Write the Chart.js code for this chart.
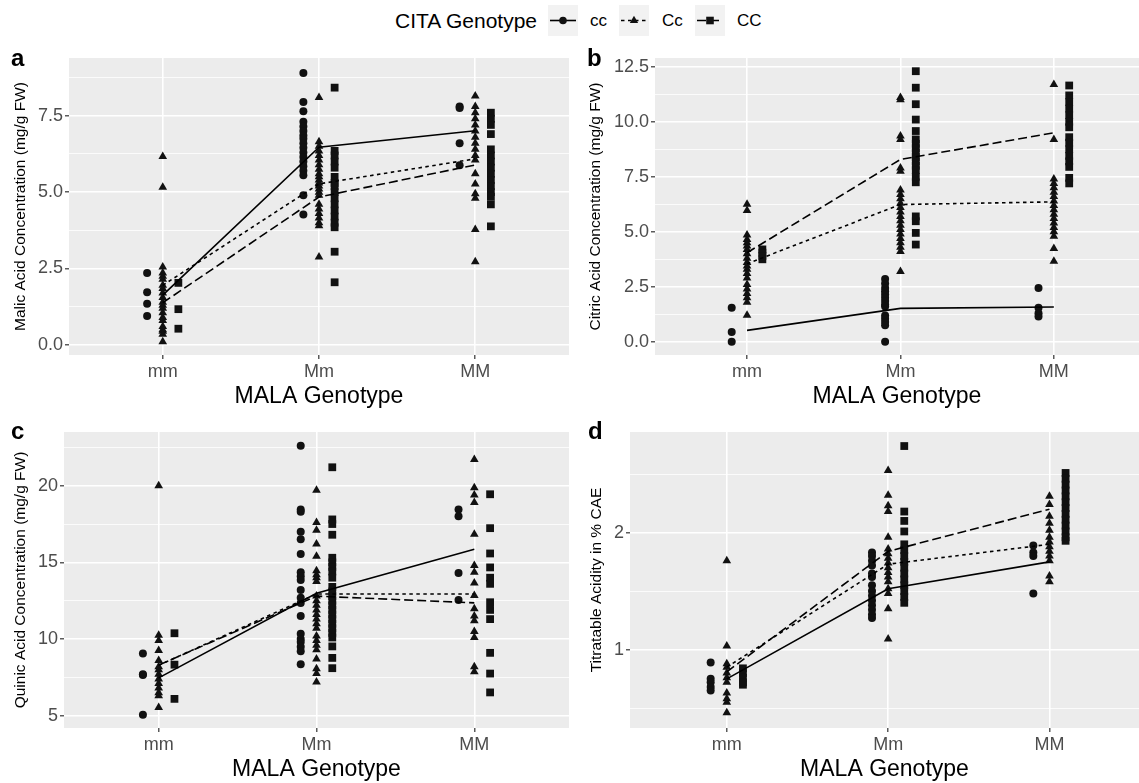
<!DOCTYPE html>
<html>
<head>
<meta charset="utf-8">
<script src="https://cdn.jsdelivr.net/npm/chart.js@4.4.0/dist/chart.umd.min.js"></script>
<style>
  body { margin: 0; background: #fff; width: 1139px; height: 783px; overflow: hidden; position: relative;
         font-family: 'Liberation Sans', Arial, sans-serif; }
  canvas.panel { position: absolute; }
  .tag { position: absolute; font-weight: bold; font-size: 24px; line-height: 24px; color: #000; }
  .leg { position: absolute; top: 5px; height: 31px; line-height: 31px; color: #000; white-space: nowrap; }
  canvas.key { position: absolute; top: 5px; }
</style>
</head>
<body>
<div class="leg" style="left:395px;font-size:21px">CITA Genotype</div>
<canvas class="key" id="key0" width="30" height="31" style="left:548px"></canvas>
<div class="leg" style="left:590px;font-size:17px">cc</div>
<canvas class="key" id="key1" width="30" height="31" style="left:619px"></canvas>
<div class="leg" style="left:662px;font-size:17px">Cc</div>
<canvas class="key" id="key2" width="30" height="31" style="left:695px"></canvas>
<div class="leg" style="left:737px;font-size:17px">CC</div>

<canvas class="panel" id="pa" width="575" height="370" style="left:0;top:40px"></canvas>
<canvas class="panel" id="pb" width="564" height="370" style="left:575px;top:40px"></canvas>
<canvas class="panel" id="pc" width="575" height="373" style="left:0;top:410px"></canvas>
<canvas class="panel" id="pd" width="564" height="373" style="left:575px;top:410px"></canvas>

<div class="tag" style="left:11px;top:46px">a</div>
<div class="tag" style="left:587px;top:46px">b</div>
<div class="tag" style="left:11px;top:419px">c</div>
<div class="tag" style="left:588px;top:419px">d</div>

<script>
const genotypes = ['mm', 'Mm', 'MM'];
const citaGroups = ['cc', 'Cc', 'CC'];
const groupOffset = [-0.1, 0, 0.1];
const groupShape = ['circle', 'triangle', 'rect'];
const groupRadius = [4, 5, 5.5];
const groupDash = [[], [3.5, 3.5], [9, 4]];
const FONT = "'Liberation Sans', Arial, sans-serif";

// a: malic acid (mg/g FW), values per MALA genotype [mm, Mm, MM]
const malic_cc = [
  [2.35, 1.72, 1.35, 0.95],
  [8.9, 7.95, 7.65, 7.3, 7.15, 7.0, 6.85, 6.75, 6.6, 6.45, 6.3, 6.15, 6.0, 5.85, 5.7, 5.55, 4.9, 4.27],
  [7.8, 7.75, 6.6, 5.88]
];
const malic_Cc = [
  [6.17, 5.16, 2.55, 2.35, 2.25, 2.15, 1.95, 1.85, 1.7, 1.55, 1.4, 1.3, 1.2, 1.05, 0.9, 0.8, 0.6, 0.5, 0.45, 0.35, 0.1],
  [8.1, 6.65, 6.5, 6.35, 6.2, 6.05, 5.9, 5.75, 5.6, 5.5, 5.4, 5.3, 5.2, 5.1, 5.0, 4.9, 4.6, 4.45, 4.3, 4.15, 4.0, 3.9, 2.88],
  [8.15, 7.8, 7.6, 7.4, 7.2, 7.0, 6.8, 6.6, 6.4, 6.2, 6.05, 5.6, 5.27, 4.95, 4.8, 3.78, 2.72]
];
const malic_CC = [
  [2.03, 1.17, 0.53],
  [8.42, 6.35, 6.2, 6.0, 5.8, 5.5, 5.3, 5.2, 5.0, 4.8, 4.6, 4.4, 4.2, 4.0, 3.85, 3.05, 2.05],
  [7.6, 7.4, 7.2, 6.9, 6.4, 6.2, 6.0, 5.8, 5.6, 5.4, 5.2, 5.0, 4.85, 4.6, 3.88]
];
const malicMean_cc = [1.63, 6.47, 7.01];
const malicMean_Cc = [1.95, 5.27, 6.09];
const malicMean_CC = [1.38, 4.84, 5.89];
const malicTicks = [0, 2.5, 5, 7.5];
const malicMinor = [1.25, 3.75, 6.25, 8.75];

// b: citric acid (mg/g FW)
const citric_cc = [
  [1.55, 0.45, 0.0],
  [2.85, 2.65, 2.45, 2.3, 2.15, 2.0, 1.85, 1.7, 1.6, 1.2, 1.05, 0.9, 0.75, 0.0],
  [2.45, 1.55, 1.3, 1.15]
];
const citric_Cc = [
  [6.25, 5.97, 4.85, 4.65, 4.5, 4.35, 4.2, 4.0, 3.8, 3.6, 3.45, 3.3, 3.1, 2.9, 2.6, 2.4, 2.2, 2.0, 1.8, 1.21],
  [11.1, 11.0, 9.35, 9.2, 7.9, 7.75, 6.9, 6.7, 6.5, 6.3, 6.1, 5.9, 5.7, 5.5, 5.3, 5.1, 4.9, 4.7, 4.5, 4.3, 4.1, 3.2],
  [11.7, 9.2, 7.4, 7.2, 7.0, 6.8, 6.6, 6.4, 6.2, 6.0, 5.8, 5.6, 5.4, 5.2, 5.0, 4.8, 4.24, 3.66]
];
const citric_CC = [
  [4.2, 4.05, 3.9, 3.75],
  [12.3, 11.55, 10.8, 10.1, 9.58, 9.2, 9.0, 8.8, 8.6, 8.4, 8.2, 8.0, 7.8, 7.5, 7.25, 5.7, 5.48, 4.95, 4.42],
  [11.65, 11.2, 10.9, 10.6, 10.3, 10.0, 9.75, 9.3, 9.05, 8.75, 8.45, 8.2, 7.95, 7.45, 7.2]
];
const citricMean_cc = [0.52, 1.52, 1.58];
const citricMean_Cc = [3.55, 6.24, 6.36];
const citricMean_CC = [4.05, 8.29, 9.5];
const citricTicks = [0, 2.5, 5, 7.5, 10, 12.5];
const citricMinor = [1.25, 3.75, 6.25, 8.75, 11.25];

// c: quinic acid (mg/g FW)
const quinic_cc = [
  [9.05, 7.7, 7.65, 5.06],
  [22.6, 18.45, 18.3, 17.0, 16.5, 15.55, 14.35, 14.1, 13.85, 13.2, 12.7, 12.35, 11.5, 10.35, 10.0, 9.8, 9.5, 9.2, 8.35],
  [18.45, 18.0, 14.3, 12.55]
];
const quinic_Cc = [
  [20.0, 10.25, 9.9, 9.26, 8.6, 8.2, 8.0, 7.7, 7.4, 7.1, 6.8, 6.5, 6.3, 5.54],
  [19.7, 17.6, 17.1, 16.2, 15.4, 14.45, 14.2, 14.0, 13.75, 12.8, 12.5, 12.2, 11.9, 11.6, 11.3, 11.0, 10.7, 10.2, 9.9, 9.6, 9.3, 8.7, 8.07, 7.75, 7.2],
  [21.7, 19.87, 19.4, 18.9, 16.84, 14.8, 14.35, 13.66, 12.84, 11.97, 11.5, 11.2, 10.5, 10.1, 8.2, 7.86]
];
const quinic_CC = [
  [10.38, 8.33, 6.1],
  [21.2, 17.8, 17.5, 16.8, 15.3, 15.0, 14.7, 14.4, 14.0, 13.4, 13.1, 12.8, 12.5, 12.2, 11.9, 11.6, 11.3, 11.0, 10.7, 10.4, 10.1, 9.52, 8.77, 8.1],
  [19.44, 17.23, 15.58, 14.67, 14.0, 13.6, 12.4, 11.9, 11.3, 9.1, 7.75, 6.52]
];
const quinicMean_cc = [7.47, 12.98, 15.86];
const quinicMean_Cc = [8.29, 12.94, 12.94];
const quinicMean_CC = [8.3, 12.8, 12.36];
const quinicTicks = [5, 10, 15, 20];
const quinicMinor = [7.5, 12.5, 17.5, 22.5];

// d: titratable acidity (% CAE)
const acid_cc = [
  [0.89, 0.75, 0.72, 0.68, 0.65],
  [1.83, 1.8, 1.76, 1.72, 1.65, 1.62, 1.55, 1.5, 1.46, 1.42, 1.38, 1.34, 1.3, 1.27],
  [1.89, 1.83, 1.8, 1.48]
];
const acid_Cc = [
  [1.76, 1.03, 0.88, 0.85, 0.8, 0.76, 0.72, 0.63, 0.58, 0.55, 0.46],
  [2.53, 2.32, 2.23, 2.18, 1.96, 1.86, 1.82, 1.78, 1.74, 1.7, 1.66, 1.62, 1.58, 1.52, 1.48, 1.35, 1.09],
  [2.31, 2.24, 2.14, 2.08, 2.02, 1.96, 1.92, 1.88, 1.84, 1.8, 1.76, 1.63, 1.58]
];
const acid_CC = [
  [0.84, 0.8, 0.76, 0.72, 0.7],
  [2.74, 2.18, 2.1, 2.01, 1.9, 1.85, 1.8, 1.75, 1.7, 1.65, 1.6, 1.55, 1.5, 1.45, 1.4],
  [2.51, 2.46, 2.41, 2.36, 2.31, 2.26, 2.21, 2.16, 2.11, 2.06, 2.01, 1.96, 1.93]
];
const acidMean_cc = [0.75, 1.52, 1.75];
const acidMean_Cc = [0.85, 1.73, 1.9];
const acidMean_CC = [0.81, 1.84, 2.2];
const acidTicks = [1, 2];
const acidMinor = [0.5, 1.5, 2.5];


function pointsFor(vals, g) {
  const out = [];
  vals.forEach((list, i) => list.forEach(v => out.push({ x: i + 1 + groupOffset[g], y: v })));
  return out;
}

function meanLine(means) {
  return means.map((v, i) => ({ x: i + 1, y: v }));
}

const panelBg = {
  id: 'panelBg',
  beforeDraw(chart) {
    const a = chart.chartArea;
    const ctx = chart.ctx;
    ctx.save();
    ctx.fillStyle = '#ececec';
    ctx.fillRect(a.left, a.top, a.right - a.left, a.bottom - a.top);
    ctx.restore();
  }
};

function makePanel(id, s) {
  const datasets = [];
  s.means.forEach((m, g) => datasets.push({
    type: 'line',
    data: meanLine(m),
    borderColor: '#000',
    borderWidth: 1.6,
    borderDash: groupDash[g],
    pointRadius: 0,
    fill: false,
    tension: 0
  }));
  s.points.forEach((p, g) => datasets.push({
    type: 'scatter',
    data: pointsFor(p, g),
    pointStyle: groupShape[g],
    pointRadius: groupRadius[g],
    pointHoverRadius: groupRadius[g],
    backgroundColor: '#111',
    borderColor: '#111',
    borderWidth: 0
  }));
  const isMajor = v => s.ticks.some(t => Math.abs(t - v) < 1e-9);

  new Chart(document.getElementById(id), {
    type: 'scatter',
    data: { datasets },
    plugins: [panelBg],
    options: {
      responsive: false,
      animation: false,
      devicePixelRatio: 1,
      layout: { autoPadding: false, padding: { left: 0, top: s.padTop, right: s.padRight, bottom: 0 } },
      plugins: { legend: { display: false }, tooltip: { enabled: false } },
      scales: {
        x: {
          type: 'linear',
          min: 0.4,
          max: s.xMax,
          afterFit: sc => { sc.height = s.xHeight; },
          afterBuildTicks: sc => { sc.ticks = genotypes.map((g, i) => ({ value: i + 1 })); },
          ticks: {
            autoSkip: false, maxRotation: 0, padding: 2,
            color: '#4d4d4d', font: { family: FONT, size: 18 },
            callback: v => genotypes[Math.round(v) - 1]
          },
          grid: { color: '#fff', lineWidth: 1.6, tickLength: 4, tickColor: '#333', tickWidth: 1.2 },
          border: { display: false },
          title: {
            display: true, text: 'MALA Genotype', color: '#000',
            font: { family: FONT, size: 23 }, padding: { top: 0, bottom: 0 }
          }
        },
        y: {
          type: 'linear',
          min: s.yMin,
          max: s.yMax,
          afterFit: sc => { sc.width = s.yWidth; },
          afterBuildTicks: sc => {
            sc.ticks = s.ticks.concat(s.minor).sort((p, q) => p - q).map(v => ({ value: v }));
          },
          ticks: {
            autoSkip: false, padding: 2,
            color: '#4d4d4d', font: { family: FONT, size: 18 },
            callback: v => isMajor(v) ? s.fmt(v) : ''
          },
          grid: {
            color: '#fff',
            lineWidth: c => isMajor(c.tick.value) ? 1.6 : 0.8,
            tickLength: 4,
            tickColor: c => isMajor(c.tick.value) ? '#333' : 'rgba(0,0,0,0)',
            tickWidth: 1.2
          },
          border: { display: false },
          title: {
            display: true, text: s.yTitle, color: '#000',
            font: { family: FONT, size: 15.5 }, padding: { top: s.yTitlePad, bottom: 0 }
          }
        }
      }
    }
  });
}

makePanel('pa', {
  points: [malic_cc, malic_Cc, malic_CC],
  means: [malicMean_cc, malicMean_Cc, malicMean_CC],
  ticks: malicTicks, minor: malicMinor, fmt: v => v.toFixed(1),
  yMin: -0.33, yMax: 9.39, xMax: 3.6,
  yWidth: 69, xHeight: 55, padTop: 18, padRight: 6, yTitlePad: 11,
  yTitle: 'Malic Acid Concentration (mg/g FW)'
});
makePanel('pb', {
  points: [citric_cc, citric_Cc, citric_CC],
  means: [citricMean_cc, citricMean_Cc, citricMean_CC],
  ticks: citricTicks, minor: citricMinor, fmt: v => v.toFixed(1),
  yMin: -0.6, yMax: 12.9, xMax: 3.555,
  yWidth: 80, xHeight: 55, padTop: 18, padRight: 0, yTitlePad: 11,
  yTitle: 'Citric Acid Concentration (mg/g FW)'
});
makePanel('pc', {
  points: [quinic_cc, quinic_Cc, quinic_CC],
  means: [quinicMean_cc, quinicMean_Cc, quinicMean_CC],
  ticks: quinicTicks, minor: quinicMinor, fmt: v => String(v),
  yMin: 4.2, yMax: 23.5, xMax: 3.6,
  yWidth: 64, xHeight: 55, padTop: 22, padRight: 6, yTitlePad: 11,
  yTitle: 'Quinic Acid Concentration (mg/g FW)'
});
makePanel('pd', {
  points: [acid_cc, acid_Cc, acid_CC],
  means: [acidMean_cc, acidMean_Cc, acidMean_CC],
  ticks: acidTicks, minor: acidMinor, fmt: v => String(v),
  yMin: 0.33, yMax: 2.86, xMax: 3.555,
  yWidth: 55, xHeight: 55, padTop: 22, padRight: 0, yTitlePad: 12,
  yTitle: 'Titratable Acidity in % CAE'
});

// legend keys
function drawKey(id, g) {
  const ctx = document.getElementById(id).getContext('2d');
  ctx.fillStyle = '#f2f2f2';
  ctx.fillRect(0, 0, 30, 31);
  ctx.strokeStyle = '#000';
  ctx.lineWidth = 1.6;
  ctx.setLineDash(groupDash[g]);
  ctx.beginPath();
  ctx.moveTo(2, 15.5);
  ctx.lineTo(28, 15.5);
  ctx.stroke();
  ctx.setLineDash([]);
  ctx.fillStyle = '#111';
  ctx.beginPath();
  if (g === 0) {
    ctx.arc(15, 15.5, 3.8, 0, Math.PI * 2);
  } else if (g === 1) {
    const r = 4.8;
    ctx.moveTo(15, 15.5 - r);
    ctx.lineTo(15 + r * 0.866, 15.5 + r / 2);
    ctx.lineTo(15 - r * 0.866, 15.5 + r / 2);
    ctx.closePath();
  } else {
    ctx.rect(11.2, 11.7, 7.6, 7.6);
  }
  ctx.fill();
}
citaGroups.forEach((c, g) => drawKey('key' + g, g));
</script>
</body>
</html>
